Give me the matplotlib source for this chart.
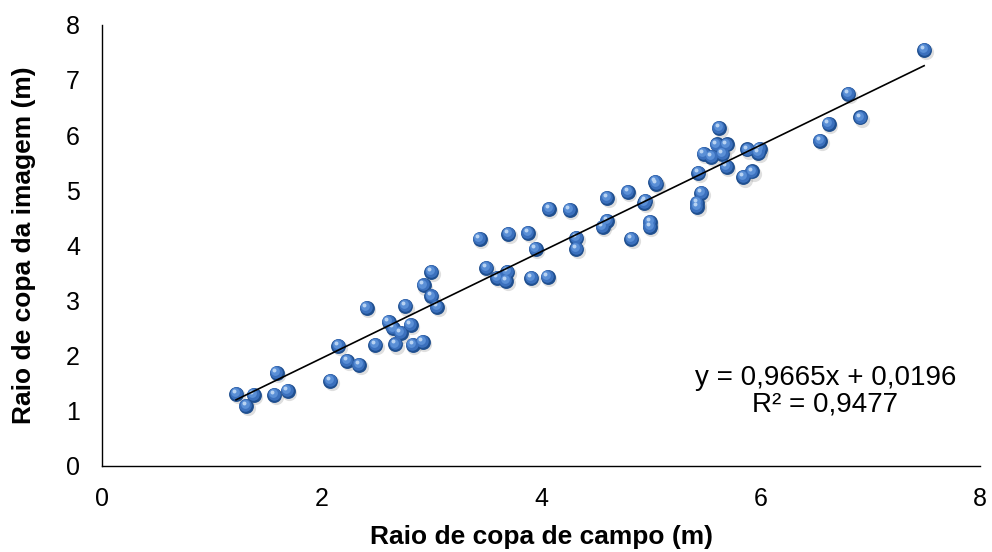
import matplotlib.pyplot as plt
import matplotlib.transforms as mtransforms
import numpy as np

plt.rcParams['font.family'] = ['Liberation Sans', 'DejaVu Sans']

# field crown radius (m) vs image crown radius (m)
campo = [1.22, 1.38, 1.31, 1.59, 1.57, 1.69, 2.08, 2.15, 2.23, 2.34,
         2.41, 2.49, 2.61, 2.65, 2.67, 2.72, 2.76, 2.81, 2.83, 2.92,
         2.93, 3.00, 3.00, 3.05, 3.44, 3.50, 3.60, 3.69, 3.68, 3.70,
         3.88, 3.95, 3.91, 4.06, 4.07, 4.26, 4.32, 4.32, 4.60, 4.56,
         4.60, 4.79, 4.82, 4.94, 4.95, 4.99, 4.99, 5.04, 5.05, 5.43,
         5.46, 5.42, 5.42, 5.48, 5.55, 5.60, 5.62, 5.65, 5.69, 5.69,
         5.84, 5.88, 5.92, 5.98, 5.99, 6.54, 6.62, 6.80, 6.91, 7.49]
imagem = [1.31, 1.29, 1.09, 1.69, 1.29, 1.36, 1.54, 2.18, 1.91, 1.83,
          2.87, 2.20, 2.61, 2.50, 2.21, 2.41, 2.90, 2.56, 2.20, 2.25,
          3.28, 3.52, 3.08, 2.89, 4.12, 3.59, 3.41, 3.52, 3.36, 4.21,
          4.23, 3.94, 3.41, 3.43, 4.66, 4.65, 4.14, 3.94, 4.86, 4.34,
          4.45, 4.97, 4.12, 4.77, 4.81, 4.43, 4.34, 5.15, 5.12, 5.32,
          4.95, 4.77, 4.70, 5.66, 5.61, 5.83, 6.13, 5.66, 5.83, 5.43,
          5.24, 5.74, 5.34, 5.68, 5.75, 5.90, 6.21, 6.75, 6.32, 7.55]

slope, intercept = 0.9665, 0.0196
r2 = 0.9477

fig = plt.figure(figsize=(9.92, 5.52), dpi=100)
ax = fig.add_axes([0.103, 0.156, 0.885, 0.799])

# shaded spheres: shadow, body, lighter core, highlight
def shifted(dx, dy):
    return mtransforms.offset_copy(ax.transData, fig=fig, x=dx, y=dy, units='points')

ax.scatter(campo, imagem, s=120, color='#808080', alpha=0.25, lw=0,
           transform=shifted(1.2, -1.8), zorder=2)
ax.scatter(campo, imagem, s=115, color='#1f4f8f', lw=0, zorder=3)
ax.scatter(campo, imagem, s=82, color='#3b70bd', lw=0,
           transform=shifted(-0.4, 0.5), zorder=4)
ax.scatter(campo, imagem, s=40, color='#5a8fd6', lw=0,
           transform=shifted(-0.9, 1.1), zorder=5)
ax.scatter(campo, imagem, s=8, color='#b8d3f2', lw=0,
           transform=shifted(-1.6, 1.9), zorder=6)

xs = np.array([min(campo), max(campo)])
ax.plot(xs, slope * xs + intercept, color='black', lw=1.2, zorder=7)

ax.text(6.59, 1.60, 'y = 0,9665x + 0,0196', ha='center', va='center', fontsize=20)
ax.text(6.59, 1.11, f'R² = {r2:.4f}'.replace('.', ','), ha='center', va='center',
        fontsize=20)

ax.set_xlim(0, 8)
ax.set_ylim(0, 8)
ax.set_xticks([0, 2, 4, 6, 8])
ax.set_yticks(range(9))
ax.tick_params(length=0, labelsize=18)
ax.tick_params(axis='x', pad=15)
ax.tick_params(axis='y', pad=16)
for side in ['top', 'right']:
    ax.spines[side].set_visible(False)
for side in ['left', 'bottom']:
    ax.spines[side].set_linewidth(1.0)

ax.set_xlabel('Raio de copa de campo (m)', fontsize=19, fontweight='bold')
ax.set_ylabel('Raio de copa da imagem (m)', fontsize=19, fontweight='bold')
ax.xaxis.set_label_coords(0.5, -0.134)
ax.yaxis.set_label_coords(-0.075, 0.5)

fig.savefig('out.png', dpi=100)
